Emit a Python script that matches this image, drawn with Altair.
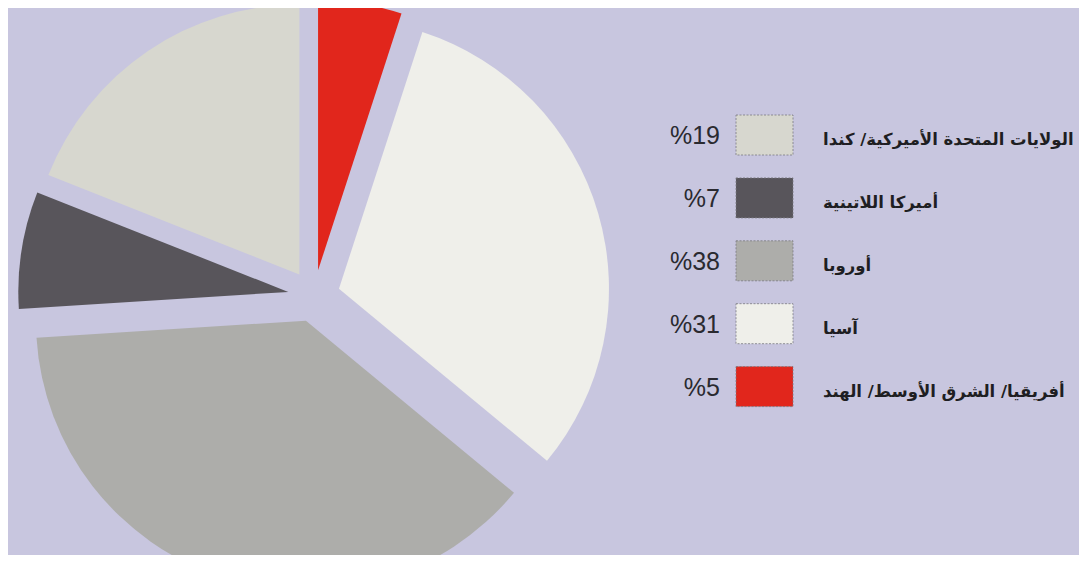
import altair as alt
import pandas as pd

# Data (clockwise from 12 o'clock)
regions = [
    "أفريقيا/ الشرق الأوسط/ الهند",
    "آسيا",
    "أوروبا",
    "أميركا اللاتينية",
    "الولايات المتحدة الأميركية/ كندا",
]
shares = [5, 31, 38, 7, 19]
pct_labels = ["%5", "%31", "%38", "%7", "%19"]
slice_order = [1, 2, 3, 4, 5]
colors = ["#e1261c", "#efefea", "#adadaa", "#58555b", "#d7d7cf"]

# Legend order, top to bottom
legend_order = [
    "الولايات المتحدة الأميركية/ كندا",
    "أميركا اللاتينية",
    "أوروبا",
    "آسيا",
    "أفريقيا/ الشرق الأوسط/ الهند",
]

df = pd.DataFrame({
    "region": regions,
    "share": shares,
    "pct": pct_labels,
    "order": slice_order,
})

BG = "#c8c6df"
W, H = 1071, 547
CX, CY, EXPLODE, R = 306, 288, 26, 270

color_scale = alt.Scale(domain=regions, range=colors)

base = alt.Chart(df)

pie = base.transform_joinaggregate(
    total="sum(share)"
).transform_window(
    cum="sum(share)", sort=[alt.SortField("order", order="ascending")]
).transform_calculate(
    t1="datum.cum / datum.total * 2 * PI",
    t0="(datum.cum - datum.share) / datum.total * 2 * PI",
).transform_calculate(
    ux="sin((datum.t0 + datum.t1) / 2)",
    uy="-cos((datum.t0 + datum.t1) / 2)",
).mark_arc(outerRadius=R).encode(
    theta=alt.Theta("t0:Q", scale=None),
    theta2="t1:Q",
    x=alt.X("ux:Q", scale=alt.Scale(domain=[-1, 1], range=[CX - EXPLODE, CX + EXPLODE]), axis=None),
    y=alt.Y("uy:Q", scale=alt.Scale(domain=[-1, 1], range=[CY - EXPLODE, CY + EXPLODE]), axis=None),
    color=alt.Color("region:N", scale=color_scale, legend=None),
)

yband = alt.Y(
    "region:N",
    sort=legend_order,
    scale=alt.Scale(type="band", range=[107, 398.6], paddingInner=0.364, paddingOuter=0),
    axis=None,
)

swatches = base.mark_rect(
    stroke="#7a7a80", strokeWidth=0.8, strokeDash=[2, 1.5]
).encode(
    x=alt.value(728),
    x2=alt.value(785),
    y=yband,
    color=alt.Color("region:N", scale=color_scale, legend=None),
)

pct_text = base.mark_text(
    align="right", baseline="middle", font="Liberation Sans", fontSize=25,
    color="#2a2a30", dy=1,
).encode(
    x=alt.value(712),
    y=yband,
    text="pct:N",
)

label_text = base.mark_text(
    align="left", baseline="middle", font="DejaVu Sans", fontWeight="bold",
    fontSize=16.5, color="#1e1e22", dy=5,
).encode(
    x=alt.value(815),
    y=yband,
    text="region:N",
)

legend = alt.layer(swatches, pct_text, label_text)

chart = alt.layer(pie, legend).resolve_scale(
    x="independent", y="independent", color="shared"
).properties(
    width=W, height=H, autosize=alt.AutoSizeParams(type="none"), padding=0,
    background=BG,
).configure_view(stroke=None, fill=BG)

chart.save("out.html", embed_options={"renderer": "svg", "actions": False})
